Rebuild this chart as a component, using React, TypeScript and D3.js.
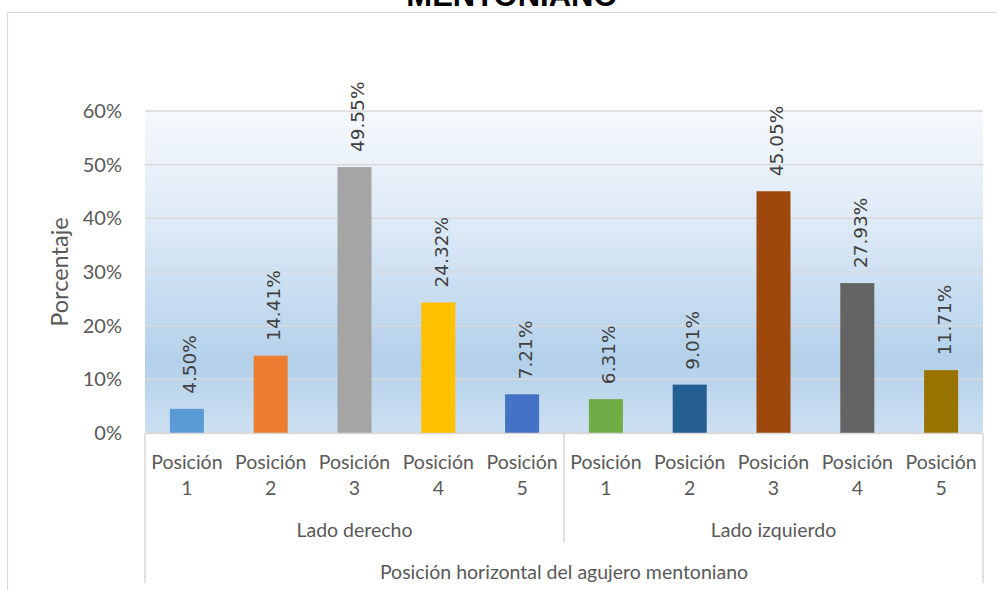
import React from "react";
import * as d3 from "d3";

const groups = ["Lado derecho", "Lado izquierdo"];
const positions = ["1", "2", "3", "4", "5"];
const derechoValues = [0.045, 0.1441, 0.4955, 0.2432, 0.0721];
const izquierdoValues = [0.0631, 0.0901, 0.4505, 0.2793, 0.1171];
const derechoColors = ["#5b9bd5", "#ed7d31", "#a5a5a5", "#ffc000", "#4472c4"];
const izquierdoColors = ["#70ad47", "#255e91", "#9e480e", "#636363", "#997300"];
const yTicks = [0, 0.1, 0.2, 0.3, 0.4, 0.5, 0.6];
const titleText = "MENTONIANO";
const yAxisTitle = "Porcentaje";
const xAxisTitle = "Posición horizontal del agujero mentoniano";

const W = 997;
const H = 590;
const plotL = 145;
const plotR = 983;
const plotT = 111;
const plotB = 433;

export default function App() {
  const rows = [
    ...positions.map((p, i) => ({ key: `d${i}`, pos: p, group: 0, value: derechoValues[i], color: derechoColors[i] })),
    ...positions.map((p, i) => ({ key: `i${i}`, pos: p, group: 1, value: izquierdoValues[i], color: izquierdoColors[i] })),
  ];
  const x = d3
    .scaleBand<string>()
    .domain(rows.map((r) => r.key))
    .range([plotL, plotR])
    .paddingInner(0.594)
    .paddingOuter(0.297);
  const y = d3.scaleLinear().domain([0, 0.6]).range([plotB, plotT]);
  const step = x.step();
  const fmt = d3.format(".2%");
  const tickFmt = d3.format(".0%");
  const catFont = "Lato, 'Open Sans', sans-serif";
  const groupMid = (g: number) => plotL + step * 5 * g + (step * 5) / 2;
  const sepX = plotL + step * 5;

  return (
    <div style={{ position: "fixed", left: 0, top: 0, width: W, height: H, background: "#fff" }}>
      <svg width={W} height={H} style={{ display: "block" }}>
        <defs>
          <linearGradient id="bg" x1="0" y1="0" x2="0" y2="1">
            <stop offset="0%" stopColor="#f6f9fd" />
            <stop offset="40%" stopColor="#d9e7f5" />
            <stop offset="78%" stopColor="#b3d0ea" />
            <stop offset="100%" stopColor="#cde0f1" />
          </linearGradient>
        </defs>
        <rect x={7.5} y={12.5} width={1100} height={700} fill="#fff" stroke="#d9d9d9" strokeWidth={1.2} />
        <text
          x={512}
          y={6}
          textAnchor="middle"
          fontFamily="'Liberation Sans', Arial, sans-serif"
          fontWeight="bold"
          fontSize={31}
          fill="#000"
        >
          {titleText}
        </text>
        <rect x={plotL} y={plotT} width={plotR - plotL} height={plotB - plotT} fill="url(#bg)" />
        {yTicks.map((t) => (
          <line key={t} x1={plotL} x2={plotR} y1={y(t)} y2={y(t)} stroke="#d9d9d9" strokeWidth={1.5} />
        ))}
        {yTicks.map((t) => (
          <text
            key={"l" + t}
            x={122}
            y={y(t)}
            dy="0.35em"
            textAnchor="end"
            fontFamily={catFont}
            fontSize={20}
            fill="#595959"
          >
            {tickFmt(t)}
          </text>
        ))}
        <text
          transform={`translate(60,${(plotT + plotB) / 2}) rotate(-90)`}
          dy="0.35em"
          textAnchor="middle"
          fontFamily={catFont}
          fontSize={23.5}
          fill="#595959"
        >
          {yAxisTitle}
        </text>
        {rows.map((r) => (
          <rect
            key={r.key}
            x={x(r.key)}
            y={y(r.value)}
            width={x.bandwidth()}
            height={y(0) - y(r.value)}
            fill={r.color}
          />
        ))}
        {rows.map((r) => {
          const cx = (x(r.key) as number) + x.bandwidth() / 2 + 3;
          const ty = y(r.value) - 15;
          return (
            <text
              key={"v" + r.key}
              transform={`translate(${cx},${ty}) rotate(-90)`}
              dy="0.35em"
              textAnchor="start"
              fontFamily="'DejaVu Sans', sans-serif"
              fontSize={18.5}
              fill="#404040"
            >
              {fmt(r.value)}
            </text>
          );
        })}
        <line x1={plotL} x2={plotR} y1={plotB + 0.5} y2={plotB + 0.5} stroke="#d9d9d9" strokeWidth={1.5} />
        <line x1={plotL} x2={plotL} y1={plotB} y2={583} stroke="#d9d9d9" strokeWidth={1.5} />
        <line x1={sepX} x2={sepX} y1={plotB} y2={543} stroke="#d9d9d9" strokeWidth={1.5} />
        <line x1={plotR} x2={plotR} y1={plotB} y2={583} stroke="#d9d9d9" strokeWidth={1.5} />
        {rows.map((r) => {
          const cx = (x(r.key) as number) + x.bandwidth() / 2;
          return (
            <g key={"c" + r.key} fontFamily={catFont} fontSize={19.5} fill="#595959" textAnchor="middle">
              <text x={cx} y={462} dy="0.35em">Posición</text>
              <text x={cx} y={488} dy="0.35em">{r.pos}</text>
            </g>
          );
        })}
        {groups.map((g, i) => (
          <text
            key={g}
            x={groupMid(i)}
            y={530}
            dy="0.35em"
            textAnchor="middle"
            fontFamily={catFont}
            fontSize={19.5}
            fill="#595959"
          >
            {g}
          </text>
        ))}
        <text
          x={(plotL + plotR) / 2}
          y={572}
          dy="0.35em"
          textAnchor="middle"
          fontFamily={catFont}
          fontSize={19.5}
          fill="#595959"
        >
          {xAxisTitle}
        </text>
      </svg>
    </div>
  );
}
